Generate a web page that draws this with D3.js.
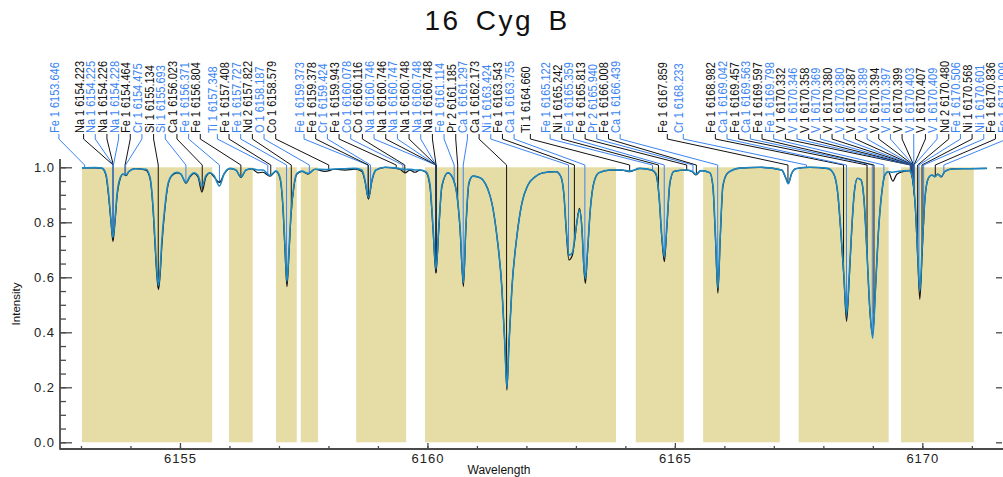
<!DOCTYPE html>
<html><head><meta charset="utf-8">
<script src="https://cdn.jsdelivr.net/npm/d3@7"></script>
<style>body{margin:0;background:#fff} svg{display:block;font-family:"Liberation Sans",Arial,sans-serif}</style>
</head><body><svg id="c" width="1003" height="477"></svg>
<script>
// ---------------- DATA ----------------
const chartTitle = "16 Cyg B";
const xAxisTitle = "Wavelength";
const yAxisTitle = "Intensity";

// observed-frame wavelength samples (Angstrom)
const waves = [
6153.020,6153.283,6153.424,6153.505,6153.566,6153.606,6153.646,6153.687,6153.727,6153.788,
6153.848,6153.909,6153.970,6154.091,6154.313,6154.394,6154.455,6154.495,6154.535,6154.566,
6154.596,6154.636,6154.697,6154.758,6154.838,6154.939,6155.020,6155.121,6155.202,6155.283,
6155.364,6155.444,6155.525,6155.606,6155.687,6155.798,6155.889,6156.010,6156.131,6156.232,
6156.333,6156.455,6156.576,6156.677,6156.818,6156.939,6157.020,6157.081,6157.121,6157.162,
6157.202,6157.242,6157.303,6157.364,6157.465,6157.586,6157.727,6157.929,6158.131,6158.333,
6158.535,6158.677,6158.737,6158.808,6158.879,6158.960,6159.141,6159.343,6159.444,6159.545,
6159.646,6159.747,6159.848,6159.970,6160.051,6160.111,6160.172,6160.232,6160.293,6160.414,
6160.515,6160.596,6160.657,6160.727,6160.778,6160.838,6160.919,6161.020,6161.121,6161.222,
6161.303,6161.404,6161.505,6161.566,6161.606,6161.646,6161.707,6161.808,6161.909,6162.030,
6162.172,6162.333,6162.596,6162.697,6162.758,6162.808,6162.859,6162.929,6162.980,6163.020,
6163.071,6163.121,6163.162,6163.192,6163.232,6163.293,6163.364,6163.465,6163.687,6163.929,
6164.091,6164.293,6164.535,6164.616,6164.677,6164.737,6164.788,6164.838,6164.899,6164.980,
6165.222,6165.343,6165.424,6165.525,6165.707,6165.768,6165.818,6165.869,6165.919,6165.970,
6166.071,6166.313,6166.717,6167.162,6167.232,6167.293,6167.354,6167.444,6167.727,6168.091,
6168.212,6168.293,6168.354,6168.414,6168.469,6168.525,6168.576,6168.626,6168.687,6168.758,
6168.818,6168.879,6168.939,6168.996,6169.051,6169.111,6169.182,6169.242,6169.313,6169.404,
6169.485,6169.606,6169.747,6169.808,6169.859,6169.909,6169.949,6170.000,6170.051,6170.121,
6170.192,6170.253,6170.313,6170.384,6170.455,6170.596,6170.960,6171.303
];
// observed spectrum (black)
const obsFlux = [
0.998,0.998,0.996,0.970,0.880,0.800,0.730,0.800,0.890,0.955,
0.975,0.970,0.985,0.995,0.990,0.960,0.850,0.720,0.600,0.555,
0.600,0.720,0.850,0.935,0.970,0.980,0.975,0.942,0.965,0.978,
0.965,0.910,0.965,0.980,0.965,0.945,0.975,0.995,0.990,0.963,
0.990,0.994,0.980,0.982,0.968,0.985,0.960,0.850,0.700,0.566,
0.680,0.820,0.930,0.975,0.985,0.975,0.993,0.985,0.993,0.990,
0.993,0.985,0.950,0.884,0.950,0.990,1.000,0.997,0.993,0.980,
0.990,0.982,0.990,0.982,0.930,0.780,0.615,0.780,0.930,0.980,
0.960,0.900,0.780,0.566,0.780,0.940,0.968,0.965,0.954,0.920,
0.870,0.750,0.560,0.350,0.190,0.350,0.560,0.750,0.870,0.935,
0.965,0.980,0.984,0.966,0.900,0.760,0.663,0.680,0.740,0.800,
0.851,0.780,0.630,0.578,0.680,0.850,0.945,0.980,0.990,0.990,
0.984,0.996,0.990,0.975,0.900,0.740,0.657,0.780,0.940,0.985,
0.990,0.985,0.972,0.988,0.980,0.930,0.750,0.542,0.750,0.930,
0.980,0.997,1.000,0.990,0.965,0.942,0.975,0.995,1.000,0.995,
0.975,0.900,0.760,0.600,0.440,0.600,0.780,0.910,0.960,0.955,
0.890,0.700,0.480,0.390,0.550,0.760,0.910,0.972,0.984,0.950,
0.975,0.984,0.988,0.950,0.850,0.660,0.520,0.700,0.880,0.960,
0.972,0.966,0.975,0.965,0.985,0.994,0.995,0.996
];
// synthetic spectrum (blue)
const synFlux = [
0.998,0.999,0.997,0.975,0.890,0.810,0.745,0.810,0.900,0.960,
0.975,0.972,0.985,0.995,0.993,0.965,0.860,0.740,0.620,0.570,
0.620,0.740,0.860,0.940,0.972,0.982,0.975,0.945,0.968,0.980,
0.970,0.930,0.970,0.980,0.970,0.932,0.975,0.996,0.990,0.965,
0.990,0.995,0.990,0.990,0.970,0.987,0.965,0.860,0.720,0.585,
0.700,0.830,0.935,0.978,0.986,0.978,0.993,0.992,0.994,0.995,
0.996,0.990,0.955,0.890,0.955,0.990,1.000,0.998,0.995,0.992,
0.993,0.990,0.990,0.984,0.940,0.790,0.630,0.790,0.935,0.980,
0.960,0.900,0.790,0.580,0.790,0.945,0.968,0.965,0.954,0.920,
0.870,0.750,0.560,0.350,0.200,0.350,0.560,0.750,0.870,0.935,
0.965,0.980,0.984,0.966,0.900,0.770,0.680,0.690,0.750,0.800,
0.845,0.780,0.640,0.595,0.690,0.850,0.945,0.980,0.990,0.990,
0.986,0.996,0.990,0.978,0.905,0.750,0.675,0.790,0.945,0.985,
0.990,0.986,0.975,0.988,0.980,0.935,0.760,0.560,0.760,0.935,
0.980,0.997,1.000,0.990,0.965,0.940,0.975,0.995,1.000,0.996,
0.975,0.905,0.770,0.615,0.465,0.615,0.785,0.910,0.960,0.955,
0.890,0.700,0.490,0.378,0.550,0.760,0.910,0.972,0.984,0.982,
0.985,0.987,0.988,0.955,0.860,0.680,0.550,0.720,0.885,0.960,
0.972,0.966,0.975,0.966,0.985,0.994,0.995,0.996
];
// line-mask regions (observed frame)
const maskStart = [6153.02,6155.99,6156.94,6157.44,6158.56,6159.95,6164.21,6165.57,6167.50,6169.57];
const maskEnd   = [6155.65,6156.47,6157.36,6157.79,6159.57,6163.81,6165.18,6167.12,6169.32,6171.04];

// identified lines (rest wavelengths)
const lineSpecies = ["Fe 1","Na 1","Na 1","Na 1","Na 1","Fe 1","Cr 1","Si 1","Si 1","Ca 1",
"Fe 1","Fe 1","Ti 1","Fe 1","Fe 1","Nd 2","O 1","Co 1","Fe 1","Fe 1",
"Cr 1","Fe 1","Co 1","Co 1","Na 1","Na 1","Na 1","Na 1","Na 1","Na 1",
"Fe 1","Pr 2","Ca 1","Ca 1","Ni 1","Fe 1","Ca 1","Ti 1","Fe 1","Ni 1",
"Fe 1","Fe 1","Pr 2","Fe 1","Ca 1","Fe 1","Cr 1","Fe 1","Ca 1","Fe 1",
"Ca 1","Fe 1","Fe 1","V 1","V 1","V 1","V 1","V 1","V 1","V 1",
"V 1","V 1","V 1","V 1","V 1","V 1","V 1","Nd 2","Fe 1","Ni 1",
"Ni 1","Fe 1","Fe 1"];
const lineWaves = [6153.646,6154.223,6154.225,6154.226,6154.228,6154.464,6154.475,6155.134,6155.693,6156.023,
6156.371,6156.804,6157.348,6157.408,6157.727,6157.822,6158.187,6158.579,6159.373,6159.378,
6159.424,6159.943,6160.078,6160.116,6160.746,6160.746,6160.747,6160.748,6160.748,6160.748,
6161.114,6161.185,6161.297,6162.173,6163.424,6163.543,6163.755,6164.660,6165.122,6165.242,
6165.359,6165.813,6165.940,6166.008,6166.439,6167.859,6168.233,6168.982,6169.042,6169.457,
6169.563,6169.597,6169.798,6170.332,6170.346,6170.358,6170.369,6170.380,6170.380,6170.387,
6170.389,6170.394,6170.397,6170.399,6170.403,6170.407,6170.409,6170.480,6170.506,6170.568,
6170.601,6170.836,6171.009];
const radialVelocity = -27.9; // km/s

const xMajorTicks = [6155,6160,6165,6170];
const xMinorTicks = d3.range(6153,6172,1);
const yMajorTicks = [0,0.2,0.4,0.6,0.8,1.0];
const yMinorTicks = d3.range(0,1.0001,0.05);

// ---------------- LAYOUT ----------------
const svg = d3.select('#c');
const x = d3.scaleLinear().domain([6152.576, 6171.63]).range([60, 1003]);
const y = d3.scaleLinear().domain([0, 1]).range([442.3, 167.3]);
const axisY = 449, axisTopFlux = 1.03;
const axisColor = '#4a4a4a';
const blue = '#3a84f2';
const curveCol = '#1b88c2';

// masks
svg.append('g').selectAll('rect').data(maskStart).join('rect')
  .attr('x', (d,i)=>x(d)).attr('width', (d,i)=>x(maskEnd[i])-x(d))
  .attr('y', y(1)).attr('height', y(0)-y(1)).attr('fill', '#e6dda6');

// line positions
const cKms = 299792.458;
const lineObs = lineWaves.map(w => w*(1+radialVelocity/cKms));
const fluxAt = w => {
  const i = d3.bisectLeft(waves, w);
  if (i<=0) return obsFlux[0];
  if (i>=waves.length) return obsFlux[waves.length-1];
  const t = (w-waves[i-1])/(waves[i]-waves[i-1]);
  return obsFlux[i-1] + t*(obsFlux[i]-obsFlux[i-1]);
};
// label layout: compressed map + greedy left-to-right spacing
const labelMap = d3.scaleLinear().domain(x.range()).range([0.865*60-14.3, 0.865*1003-14.3]);
const labelGap = 11.67;
let prev = -1e9;
const labelX = lineObs.map(w => { const p = Math.max(labelMap(x(w)), prev+labelGap); prev = p; return p; });
const textBottom = 133, stemEnd = 139, kneeY = 165;

// leaders
const leaders = svg.append('g').attr('fill','none').attr('stroke-width',1);
lineObs.forEach((w,i) => {
  const xl = x(w), lx = labelX[i];
  const yf = Math.max(kneeY, y(fluxAt(w)));
  leaders.append('path')
    .attr('d', d3.line()([[lx,textBottom+1],[lx,stemEnd],[xl,kneeY],[xl,yf]]))
    .attr('stroke', i%2===0 ? blue : '#111');
});

// spectra
const lineGen = arr => d3.line().x((d,i)=>x(waves[i])).y((d,i)=>y(arr[i])).curve(d3.curveMonotoneX)(arr);
svg.append('path').attr('d', lineGen(obsFlux)).attr('fill','none').attr('stroke','#111').attr('stroke-width',1.2);
svg.append('path').attr('d', lineGen(synFlux)).attr('fill','none').attr('stroke',curveCol).attr('stroke-width',1.6);

// labels
svg.append('g').selectAll('text').data(lineSpecies).join('text')
  .attr('transform', (d,i)=>`translate(${labelX[i]},${textBottom}) scale(1.2,1) rotate(-90)`)
  .attr('font-size', 11).attr('fill', (d,i)=> i%2===0 ? blue : '#111')
  .text((d,i)=> d + ' ' + lineWaves[i].toFixed(3));

// axes
function styleAxis(g){ g.select('.domain').remove(); g.selectAll('line').attr('stroke',axisColor).attr('stroke-width',1.3); g.selectAll('text').attr('fill','#222'); }
svg.append('g').attr('transform','translate(60,0)')
  .call(d3.axisLeft(y).tickValues(yMinorTicks).tickSize(-6).tickFormat('')).call(styleAxis);
const ya = svg.append('g').attr('transform','translate(60,0)')
  .call(d3.axisLeft(y).tickValues(yMajorTicks).tickSize(-12).tickPadding(5).tickFormat(d3.format('.1f'))).call(styleAxis);
ya.selectAll('text').attr('font-size',13).attr('letter-spacing','1px').attr('font-family','"Liberation Sans",Arial,sans-serif');
svg.append('g').attr('transform','translate(1002,0)')
  .call(d3.axisRight(y).tickValues(yMajorTicks).tickSize(-6).tickFormat('')).call(styleAxis);
svg.append('g').attr('transform',`translate(0,${axisY})`)
  .call(d3.axisBottom(x).tickValues(xMinorTicks).tickSize(-3).tickFormat('')).call(styleAxis);
const xa = svg.append('g').attr('transform',`translate(0,${axisY})`)
  .call(d3.axisBottom(x).tickValues(xMajorTicks).tickSize(-6).tickPadding(5).tickFormat(d3.format('d'))).call(styleAxis);
xa.selectAll('text').attr('font-size',13).attr('letter-spacing','1px').attr('font-family','"Liberation Sans",Arial,sans-serif');

svg.append('line').attr('x1',60).attr('x2',60).attr('y1',y(axisTopFlux)).attr('y2',axisY+0.7)
  .attr('stroke',axisColor).attr('stroke-width',1.8);
svg.append('line').attr('x1',60).attr('x2',1003).attr('y1',axisY).attr('y2',axisY)
  .attr('stroke',axisColor).attr('stroke-width',1.8);

// titles
svg.append('text').attr('x',497).attr('y',30).attr('text-anchor','middle')
  .attr('font-size',28).attr('letter-spacing','2.5px').attr('word-spacing','5px').attr('fill','#111').text(chartTitle);
svg.append('text').attr('x',499).attr('y',474).attr('text-anchor','middle')
  .attr('font-size',12).attr('fill','#111').text(xAxisTitle);
svg.append('text').attr('transform','translate(20,304) rotate(-90)').attr('text-anchor','middle')
  .attr('font-size',11.5).attr('fill','#111').text(yAxisTitle);
</script></body></html>
